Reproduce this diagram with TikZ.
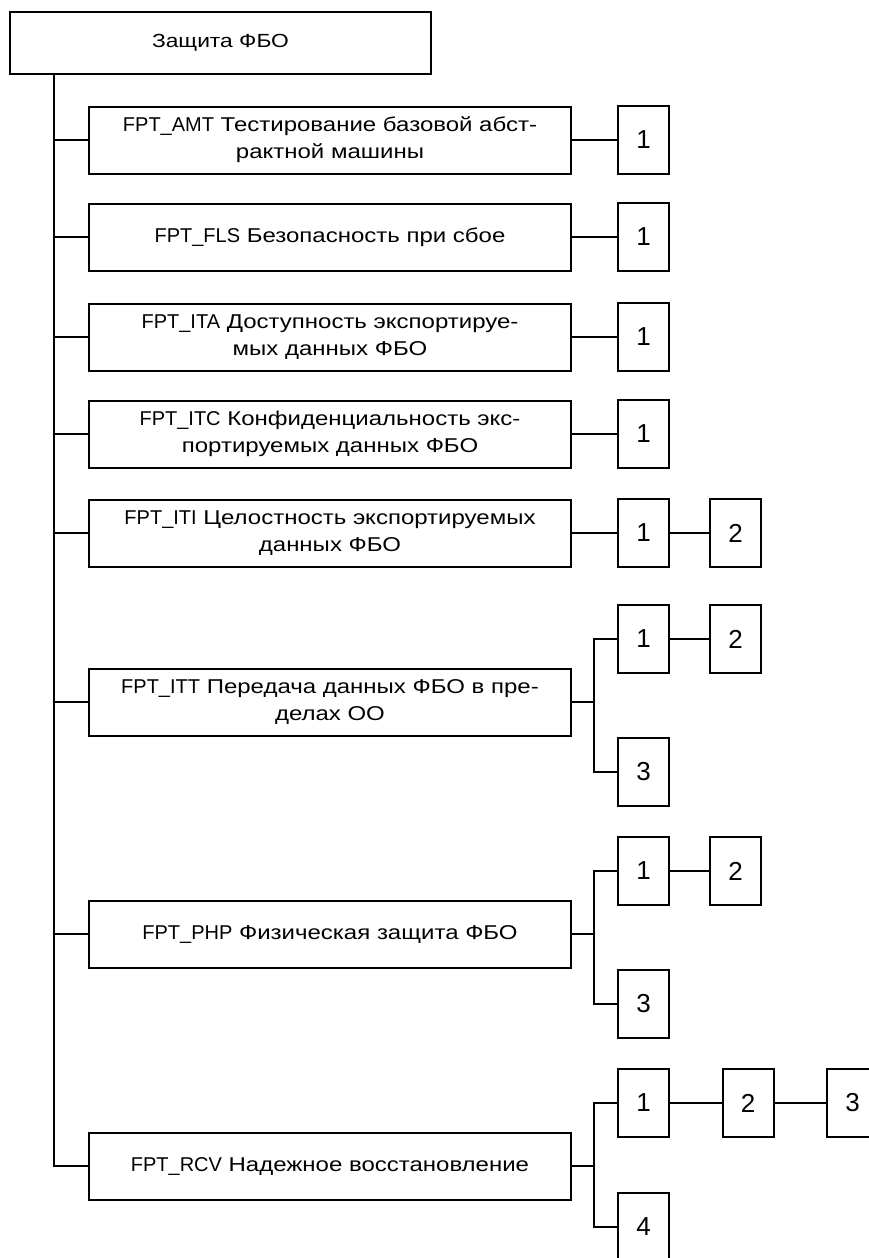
\documentclass[tikz,border=0pt]{standalone}
\usepackage{fontspec}
\setmainfont[FakeStretch=1.2]{Liberation Sans}
\newfontfamily\latfont{Liberation Sans}
\begin{document}
\begin{tikzpicture}[x=1pt,y=1pt,
  every node/.style={font=\fontsize{20}{27}\selectfont},
  line/.style={line width=2pt},
  topbox/.style={draw, line width=2pt, minimum width=421pt, minimum height=62pt, inner sep=0pt, font=\fontsize{19}{27}\selectfont},
  mainbox/.style={draw, line width=2pt, minimum width=482pt, minimum height=67pt, align=center, inner sep=0pt},
  numbox/.style={draw, line width=2pt, minimum width=51pt, minimum height=68pt, inner sep=0pt, font=\latfont\fontsize{26}{30}\selectfont}
]
\useasboundingbox (0,0) rectangle (869,-1258);
\coordinate (trx) at (54,0);
\coordinate (brx) at (594,0);

\node[topbox] (top) at (220.5,-43) {Защита ФБО};

\node[mainbox] (amt) at (330,-140) {{\latfont FPT\_AMT} Тестирование базовой абст-\\рактной машины};
\node[mainbox] (fls) at (330,-237) {{\latfont FPT\_FLS} Безопасность при сбое};
\node[mainbox] (ita) at (330,-337) {{\latfont FPT\_ITA} Доступность экспортируе-\\мых данных ФБО};
\node[mainbox] (itc) at (330,-434) {{\latfont FPT\_ITC} Конфиденциальность экс-\\портируемых данных ФБО};
\node[mainbox] (iti) at (330,-533) {{\latfont FPT\_ITI} Целостность экспортируемых\\данных ФБО};
\node[mainbox] (itt) at (330,-702) {{\latfont FPT\_ITT} Передача данных ФБО в пре-\\делах ОО};
\node[mainbox] (php) at (330,-934) {{\latfont FPT\_PHP} Физическая защита ФБО};
\node[mainbox] (rcv) at (330,-1166) {{\latfont FPT\_RCV} Надежное восстановление};

\node[numbox] (amt1) at (643.5,-140) {1};
\node[numbox] (fls1) at (643.5,-237) {1};
\node[numbox] (ita1) at (643.5,-337) {1};
\node[numbox] (itc1) at (643.5,-434) {1};
\node[numbox] (iti1) at (643.5,-533) {1};
\node[numbox] (iti2) at (735.5,-533) {2};
\node[numbox] (itt1) at (643.5,-639) {1};
\node[numbox] (itt2) at (735.5,-639) {2};
\node[numbox] (itt3) at (643.5,-772) {3};
\node[numbox] (php1) at (643.5,-871) {1};
\node[numbox] (php2) at (735.5,-871) {2};
\node[numbox] (php3) at (643.5,-1004) {3};
\node[numbox] (rcv1) at (643.5,-1103) {1};
\node[numbox] (rcv2) at (748,-1103) {2};
\node[numbox] (rcv3) at (852.5,-1103) {3};
\node[numbox] (rcv4) at (643.5,-1227) {4};

% trunk
\draw[line] (top.south -| trx) |- (rcv.west);
\foreach \n in {amt,fls,ita,itc,iti,itt,php}
  \draw[line] (\n.west -| trx) -- (\n.west);

% single connections
\foreach \a/\b in {amt/amt1,fls/fls1,ita/ita1,itc/itc1,iti/iti1,iti1/iti2,itt1/itt2,php1/php2,rcv1/rcv2,rcv2/rcv3}
  \draw[line] (\a.east) -- (\b.west);

% branches
\draw[line] (itt.east) -- (itt.east -| brx);
\draw[line] (itt1.west) -| (itt1.west -| brx) |- (itt3.west);
\draw[line] (php.east) -- (php.east -| brx);
\draw[line] (php1.west) -| (php1.west -| brx) |- (php3.west);
\draw[line] (rcv.east) -- (rcv.east -| brx);
\draw[line] (rcv1.west) -| (rcv1.west -| brx) |- (rcv4.west);
\end{tikzpicture}
\end{document}
